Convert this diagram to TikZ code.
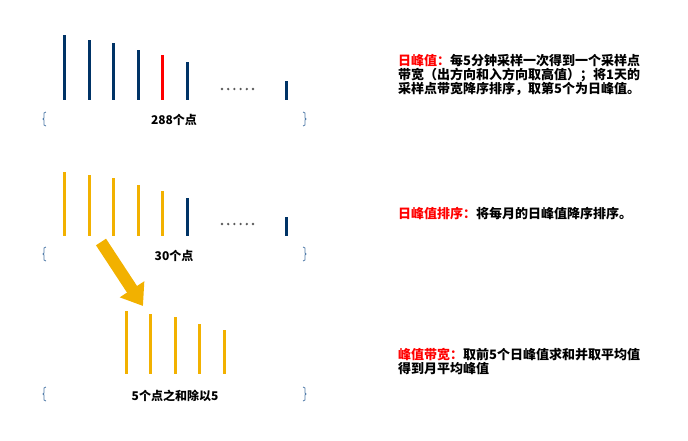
\documentclass[tikz,border=0pt]{standalone}
\usepackage{fontspec}
\setmainfont{Noto Sans CJK SC}
\usetikzlibrary{arrows.meta,positioning}
\definecolor{peaknavy}{HTML}{003366}
\definecolor{peakgold}{HTML}{F2B100}
\definecolor{peakred}{HTML}{FF0000}
\definecolor{bracegray}{HTML}{4F7AA8}
\tikzset{
  bar/.style={line width=3pt, draw=peaknavy},
  goldbar/.style={line width=3pt, draw=peakgold},
  redbar/.style={line width=3pt, draw=peakred},
  dotfill/.style={fill=black!65},
  count/.style={font=\bfseries\fontsize{12}{12}\selectfont, inner sep=0pt},
  note/.style={font=\bfseries\fontsize{13}{14}\selectfont, align=left, anchor=west, inner sep=0pt},
  bracket/.style={draw=bracegray, line width=0.8pt},
  bigarrow/.style={draw=peakgold, line width=12pt, -{Triangle[length=20pt,width=28pt]}},
}

\begin{document}
\begin{tikzpicture}[x=1pt,y=-1pt]
  \useasboundingbox (0,0) rectangle (688,440);
  % row 1: daily samples
  \draw[bar] (64,35)--(64,100);
  \draw[bar] (89,40)--(89,100);
  \draw[bar] (113,43)--(113,100);
  \draw[bar] (138,50)--(138,100);
  \draw[redbar] (162,55)--(162,100);
  \draw[bar] (187,62)--(187,100);
  \foreach \k in {0,...,5} \fill[dotfill] (222+6.2*\k,89) circle (1.3);
  \draw[bar] (286,81)--(286,100);
  \draw[bracket] (46,112)--(44,113)--(44,118)--(43,119)--(44,120)--(44,125)--(46,126);
  \draw[bracket] (303,112)--(305,113)--(305,118)--(306,119)--(305,120)--(305,125)--(303,126);
  \node[count] (pts288) at (174,120) {288个点};
  \node[note] (daypeak) at (398,75) {\textcolor{peakred}{日峰值：}每5分钟采样一次得到一个采样点\\带宽（出方向和入方向取高值）；将1天的\\采样点带宽降序排序，取第5个为日峰值。};

  % row 2: monthly sort
  \draw[goldbar] (64,172)--(64,236);
  \draw[goldbar] (89,175)--(89,236);
  \draw[goldbar] (113,178)--(113,236);
  \draw[goldbar] (138,185)--(138,236);
  \draw[goldbar] (162,191)--(162,236);
  \draw[bar] (187,198)--(187,236);
  \foreach \k in {0,...,5} \fill[dotfill] (222+6.2*\k,224) circle (1.3);
  \draw[bar] (286,217)--(286,236);
  \draw[bracket] (46,247)--(44,248)--(44,253)--(43,254)--(44,255)--(44,260)--(46,261);
  \draw[bracket] (303,247)--(305,248)--(305,253)--(306,254)--(305,255)--(305,260)--(303,261);
  \node[count] (pts30) at (174,256) {30个点};
  \node[note] (sortpeak) at (398,214) {\textcolor{peakred}{日峰值排序：}将每月的日峰值降序排序。};

  % row 3: top five
  \draw[goldbar] (126,311)--(126,374);
  \draw[goldbar] (150,314)--(150,374);
  \draw[goldbar] (175,317)--(175,374);
  \draw[goldbar] (199,324)--(199,374);
  \draw[goldbar] (224,330)--(224,374);
  \draw[bracket] (46,387)--(44,388)--(44,393)--(43,394)--(44,395)--(44,400)--(46,401);
  \draw[bracket] (303,387)--(305,388)--(305,393)--(306,394)--(305,395)--(305,400)--(303,401);
  \node[count] (pts5) at (175,396) {5个点之和除以5};
  \node[note] (bwpeak) at (398,361) {\textcolor{peakred}{峰值带宽：}取前5个日峰值求和并取平均值\\得到月平均峰值};

  \coordinate (atail) at (101,242);
  \coordinate (atip) at (143,306);
  \draw[bigarrow] (atail)--(atip);
\end{tikzpicture}
\end{document}
